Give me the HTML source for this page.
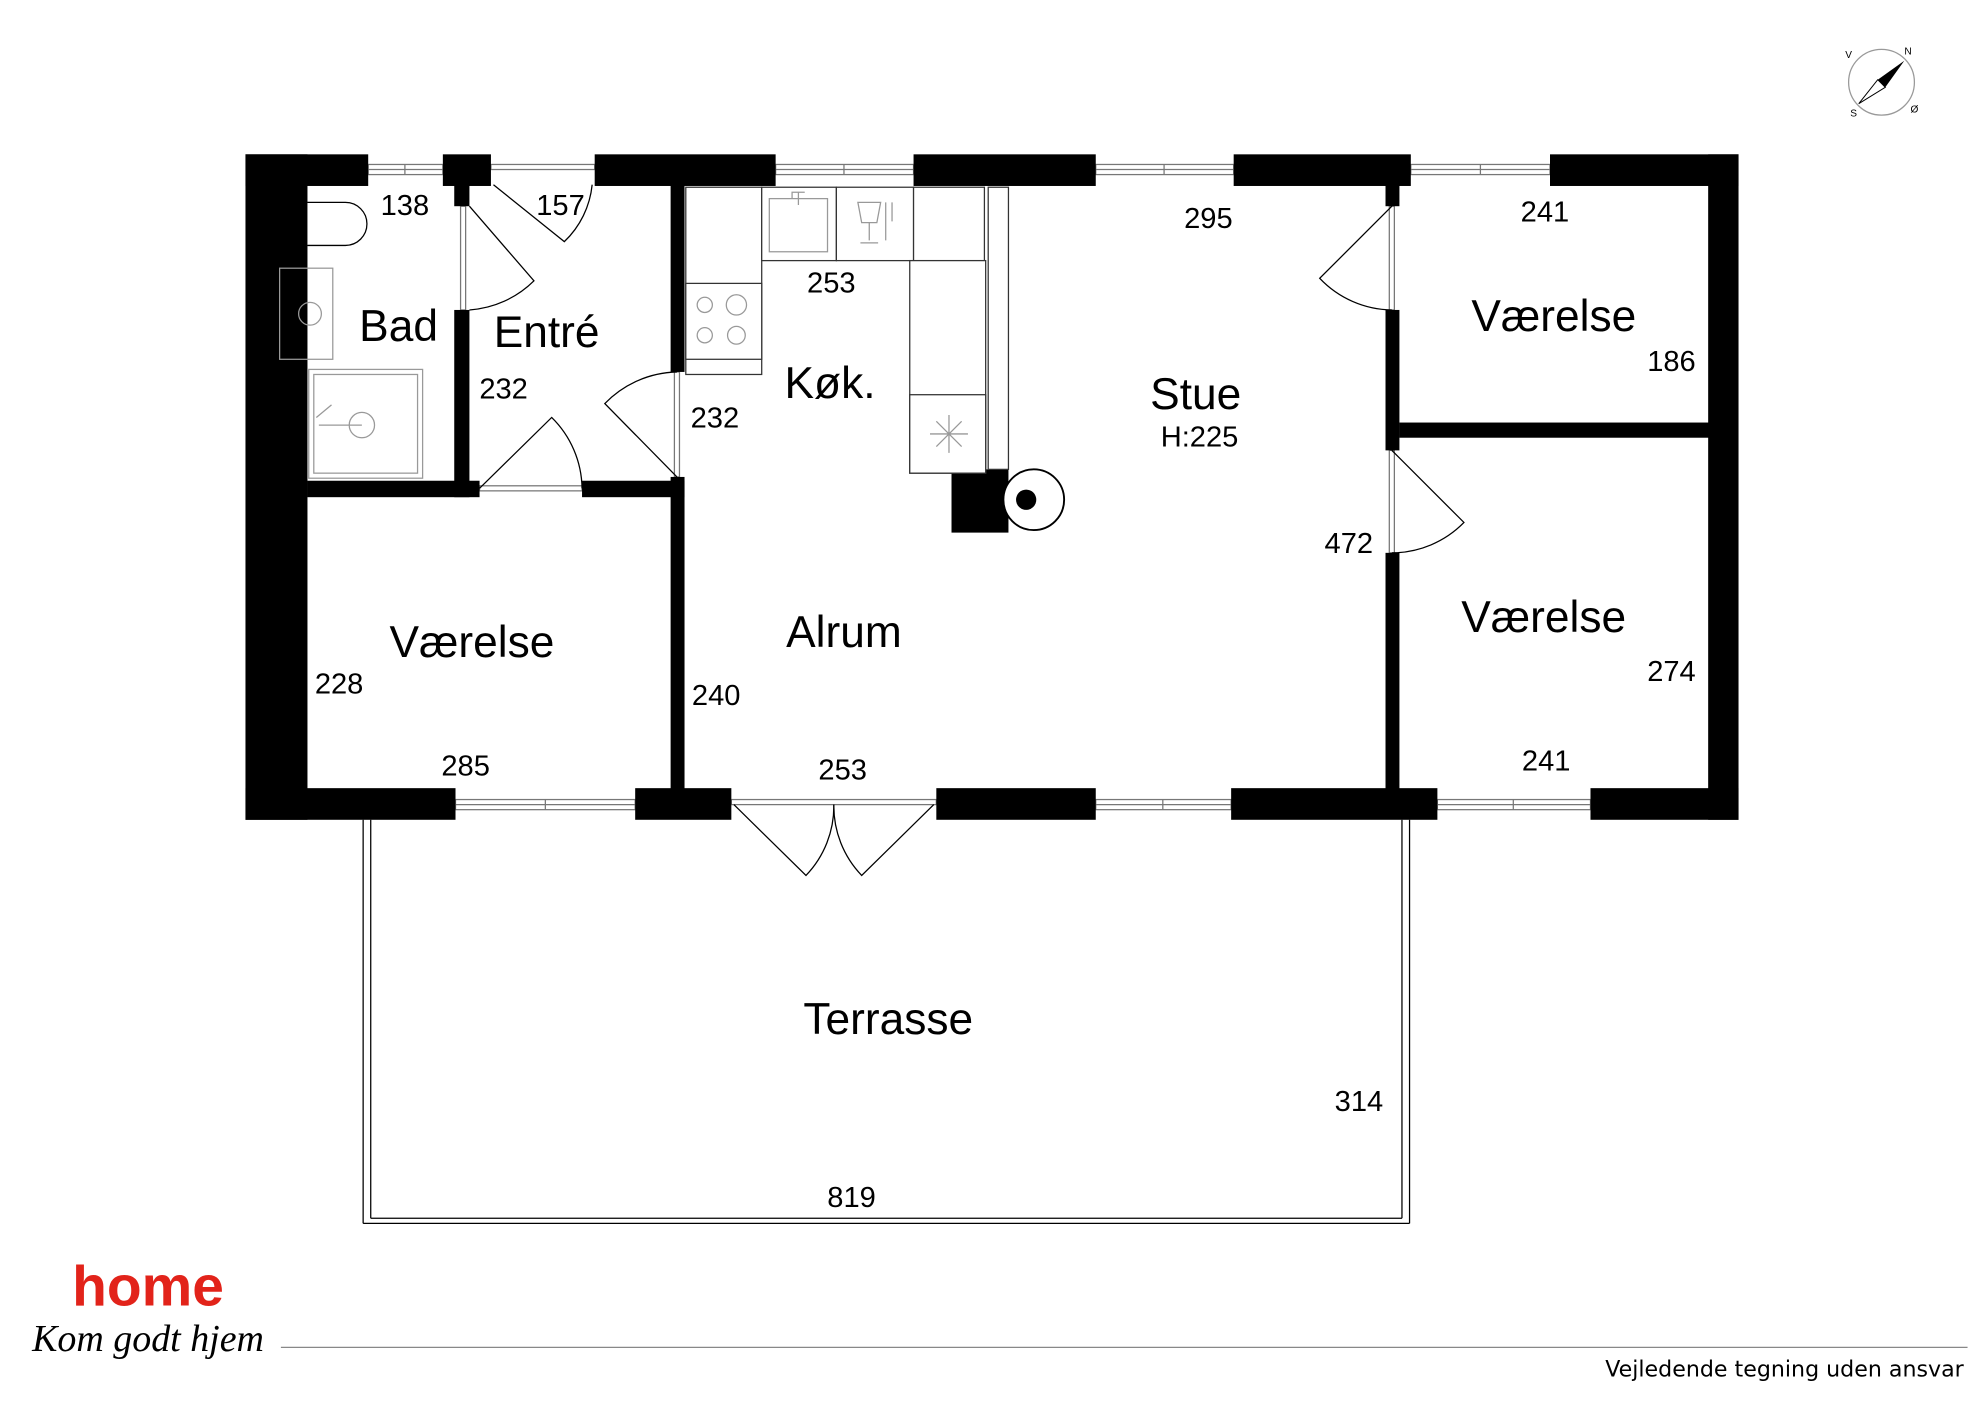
<!DOCTYPE html>
<html><head><meta charset="utf-8"><style>
html,body{margin:0;padding:0;background:#fff;}
svg{display:block;}
text{font-family:"Liberation Sans",Arial,sans-serif;fill:#000;}
</style></head><body>
<svg width="1984" height="1403" viewBox="0 0 1568 1109" preserveAspectRatio="none" xmlns="http://www.w3.org/2000/svg">
<rect width="1568" height="1109" fill="#fff"/>
<!-- windows -->
<g fill="#fff" stroke="#777" stroke-width="1">
<rect x="291" y="130" width="59" height="8"/><line x1="291" y1="134" x2="350" y2="134"/><line x1="320" y1="130" x2="320" y2="138"/>
<rect x="613" y="130" width="109" height="8"/><line x1="613" y1="134" x2="722" y2="134"/><line x1="667" y1="130" x2="667" y2="138"/>
<rect x="866" y="130" width="109" height="8"/><line x1="866" y1="134" x2="975" y2="134"/><line x1="920" y1="130" x2="920" y2="138"/>
<rect x="1115" y="130" width="110" height="8"/><line x1="1115" y1="134" x2="1225" y2="134"/><line x1="1170" y1="130" x2="1170" y2="138"/>
<rect x="388" y="130" width="82" height="4"/>
<rect x="360" y="632" width="142" height="8"/><line x1="360" y1="636" x2="502" y2="636"/><line x1="431" y1="632" x2="431" y2="640"/>
<rect x="866" y="632" width="107" height="8"/><line x1="866" y1="636" x2="973" y2="636"/><line x1="919" y1="632" x2="919" y2="640"/>
<rect x="1136" y="632" width="121" height="8"/><line x1="1136" y1="636" x2="1257" y2="636"/><line x1="1196" y1="632" x2="1196" y2="640"/>
<rect x="578" y="632" width="162" height="4"/>
<rect x="364" y="163" width="4" height="82"/>
<rect x="533" y="294" width="4" height="83"/>
<rect x="1098" y="163" width="4" height="82"/>
<rect x="1098" y="356" width="4" height="81"/>
<rect x="379" y="384" width="81" height="4"/>
</g>
<!-- walls -->
<g fill="#000">
<rect x="194" y="122" width="49" height="526"/>
<rect x="194" y="122" width="97" height="25"/>
<rect x="350" y="122" width="38" height="25"/>
<rect x="470" y="122" width="143" height="25"/>
<rect x="722" y="122" width="144" height="25"/>
<rect x="975" y="122" width="140" height="25"/>
<rect x="1225" y="122" width="149" height="25"/>
<rect x="1350" y="122" width="24" height="526"/>
<rect x="194" y="623" width="166" height="25"/>
<rect x="502" y="623" width="76" height="25"/>
<rect x="740" y="623" width="126" height="25"/>
<rect x="973" y="623" width="163" height="25"/>
<rect x="1257" y="623" width="117" height="25"/>
<rect x="359" y="140" width="12" height="23"/>
<rect x="359" y="245" width="12" height="148"/>
<rect x="243" y="380" width="136" height="13"/>
<rect x="460" y="380" width="81" height="13"/>
<rect x="530" y="140" width="11" height="154"/>
<rect x="530" y="377" width="11" height="250"/>
<rect x="1095" y="140" width="11" height="23"/>
<rect x="1095" y="245" width="11" height="111"/>
<rect x="1095" y="437" width="11" height="190"/>
<rect x="1106" y="334" width="246" height="12"/>
<rect x="752" y="371" width="45" height="50"/>
</g>
<!-- doors -->
<g fill="none" stroke="#000" stroke-width="1">
<path d="M390 146 L446 191 A72 72 0 0 0 468 146"/>
<path d="M371 163 L422 222 A80 80 0 0 1 371 245"/>
<path d="M379 386 L436 330 A80 80 0 0 1 460 386"/>
<path d="M535 377 L478 319 A82 82 0 0 1 535 294"/>
<path d="M1100 163 L1043 220 A80 80 0 0 0 1100 245"/>
<path d="M1100 356 L1157 413 A80 80 0 0 1 1100 437"/>
<path d="M580 636 L637 692 A79 79 0 0 0 659 636"/>
<path d="M738 636 L681 692 A79 79 0 0 1 659 636"/>
</g>
<!-- kitchen -->
<g fill="#fff" stroke="#333" stroke-width="1">
<rect x="542" y="148" width="60" height="148"/>
<rect x="542" y="224" width="60" height="60"/>
<rect x="602" y="148" width="59" height="58"/>
<rect x="661" y="148" width="61" height="58"/>
<rect x="722" y="148" width="56" height="58"/>
<rect x="719" y="206" width="60" height="168"/>
<rect x="719" y="312" width="60" height="62"/>
<rect x="781" y="148" width="16" height="223"/>
</g>
<g fill="none" stroke="#999" stroke-width="1">
<circle cx="557" cy="241" r="6"/><circle cx="582" cy="241" r="8"/><circle cx="557" cy="265" r="6"/><circle cx="582" cy="265" r="7"/>
<rect x="608" y="157" width="46" height="42"/><path d="M626 157 v-5 h10 M631 152 v10"/>
<path d="M678 160 h18 l-3 16 h-12 z M687 176 v14 M680 192 h14 M700 160 v30 M705 160 v15"/>
<path d="M750 328 v30 M735 343 h30 M740 333 l20 20 M760 333 l-20 20"/>
<rect x="221" y="212" width="42" height="72"/><circle cx="245" cy="248" r="9"/>
<rect x="244" y="292" width="90" height="86"/><rect x="248" y="296" width="82" height="78"/><circle cx="286" cy="336" r="10"/><path d="M252 336 h34 M250 330 l12 -10"/>
</g>
<path d="M243 160 h30 a17 17 0 0 1 0 34 h-30" fill="#fff" stroke="#000" stroke-width="1"/>
<circle cx="817" cy="395" r="24" fill="#fff" stroke="#000" stroke-width="1.5"/>
<circle cx="811" cy="395" r="8" fill="#000"/>
<!-- terrace -->
<g fill="none" stroke="#000" stroke-width="1">
<line x1="287" y1="648" x2="287" y2="967"/><line x1="293" y1="648" x2="293" y2="963"/>
<line x1="1108" y1="648" x2="1108" y2="963"/><line x1="1114" y1="648" x2="1114" y2="967"/>
<line x1="287" y1="967" x2="1114" y2="967"/><line x1="293" y1="963" x2="1108" y2="963"/>
</g>
<!-- labels -->
<g font-size="35" text-anchor="middle" dominant-baseline="central">
<text x="315" y="258">Bad</text>
<text x="432" y="263">Entré</text>
<text x="656" y="303">Køk.</text>
<text x="945" y="312">Stue</text>
<text x="1228" y="250">Værelse</text>
<text x="1220" y="488">Værelse</text>
<text x="373" y="508">Værelse</text>
<text x="667" y="500">Alrum</text>
<text x="702" y="806">Terrasse</text>
</g>
<g font-size="23" text-anchor="middle" dominant-baseline="central">
<text x="320" y="163">138</text>
<text x="443" y="163">157</text>
<text x="398" y="308">232</text>
<text x="657" y="224">253</text>
<text x="565" y="331">232</text>
<text x="955" y="173">295</text>
<text x="948" y="346">H:225</text>
<text x="1221" y="168">241</text>
<text x="1321" y="286">186</text>
<text x="1066" y="430">472</text>
<text x="1321" y="531">274</text>
<text x="268" y="541">228</text>
<text x="566" y="550">240</text>
<text x="368" y="606">285</text>
<text x="666" y="609">253</text>
<text x="1222" y="602">241</text>
<text x="1074" y="871">314</text>
<text x="673" y="947">819</text>
</g>
<!-- compass -->
<g stroke="#999" fill="none" stroke-width="1">
<circle cx="1487" cy="65" r="26"/>
</g>
<path d="M1505 48 L1484 63 L1490 69 Z" fill="#000"/>
<path d="M1469 82 L1484 63 L1490 69 Z" fill="#fff" stroke="#000" stroke-width="0.8"/>
<g font-size="8" fill="#000" text-anchor="middle">
<text x="1508" y="43">N</text><text x="1513" y="89">Ø</text><text x="1465" y="92">S</text><text x="1461" y="46">V</text>
</g>
<!-- logo -->
<text x="117" y="1032" font-size="45" font-weight="bold" text-anchor="middle" style="fill:#e2231a">home</text>
<text x="117" y="1068" font-size="30" font-style="italic" text-anchor="middle" style="font-family:'Liberation Serif',serif">Kom godt hjem</text>
<line x1="222" y1="1065" x2="1555" y2="1065" stroke="#888" stroke-width="1"/>
<text x="1552" y="1088" font-size="19.5" text-anchor="end" style="font-family:'DejaVu Sans',sans-serif;font-size:17.5px">Vejledende tegning uden ansvar</text>
</svg>
</body></html>
